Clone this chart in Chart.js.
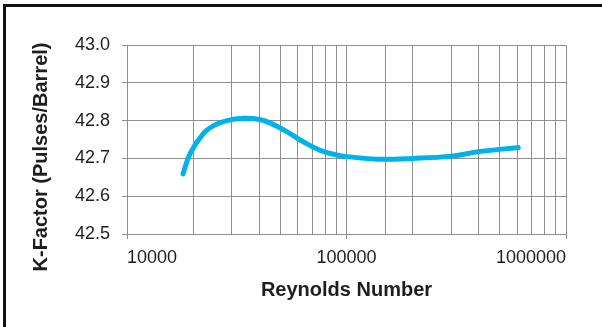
<!DOCTYPE html>
<html>
<head>
<meta charset="utf-8">
<script src="https://cdn.jsdelivr.net/npm/chart.js@4/dist/chart.umd.min.js"></script>
<style>
  html, body { margin: 0; padding: 0; background: #fff; }
  #wrap { position: relative; width: 602px; height: 327px; overflow: hidden; }
  #frame {
    position: absolute; left: 3px; top: 4px; width: 700px; height: 400px;
    border-top: 3px solid #111; border-left: 3px solid #111;
  }
  canvas { position: absolute; left: 0; top: 0; }
</style>
</head>
<body>
<div id="wrap">
  <div id="frame"></div>
  <canvas id="kfactorChart" width="602" height="327"></canvas>
</div>
<script>
// values
const reynolds = [18000, 19400, 22300, 24700, 28500, 33900, 40200, 44800, 53400, 63500, 75500, 90200, 103500, 137000, 200000, 301000, 404000, 606000];
const kFactor = [42.659, 42.713, 42.766, 42.786, 42.800, 42.806, 42.803, 42.794, 42.771, 42.744, 42.722, 42.709, 42.704, 42.698, 42.700, 42.706, 42.718, 42.729];
const xTickLabels = ["10000", "100000", "1000000"];
const yTickLabels = ["42.5", "42.6", "42.7", "42.8", "42.9", "43.0"];
const xTitle = "Reynolds Number";
const yTitle = "K-Factor (Pulses/Barrel)";

const gridColor = "#8f8f8f";
const textColor = "#1e1e1e";

// y title drawn by hand so it sits where the original has it
const yTitlePlugin = {
  id: "yTitle",
  afterDraw(chart) {
    const ctx = chart.ctx;
    ctx.save();
    ctx.translate(41, 157);
    ctx.rotate(-Math.PI / 2);
    ctx.font = 'bold 20px "Liberation Sans", Arial, sans-serif';
    ctx.fillStyle = textColor;
    ctx.textAlign = "center";
    ctx.textBaseline = "middle";
    ctx.fillText(yTitle, 0, 0);
    ctx.restore();
  },
};

const ctx = document.getElementById("kfactorChart").getContext("2d");
new Chart(ctx, {
  type: "line",
  data: {
    datasets: [
      {
        data: reynolds.map((r, i) => ({ x: r, y: kFactor[i] })),
        borderColor: "#00b2ea",
        borderWidth: 5,
        borderCapStyle: "round",
        borderJoinStyle: "round",
        pointRadius: 0,
        fill: false,
        tension: 0.4,
      },
    ],
  },
  options: {
    responsive: false,
    animation: false,
    layout: { padding: { top: 45, right: 36, bottom: 0, left: 0 } },
    plugins: { legend: { display: false }, tooltip: { enabled: false } },
    scales: {
      x: {
        type: "logarithmic",
        min: 10000,
        max: 1000000,
        afterFit: (scale) => { scale.height = 93; },
        border: { color: gridColor, width: 1 },
        grid: {
          color: gridColor,
          lineWidth: 1,
          tickLength: 5,
          tickColor: (c) => (c.tick && c.tick.major ? gridColor : "rgba(0,0,0,0)"),
        },
        ticks: {
          autoSkip: false,
          maxRotation: 0,
          align: "inner",
          padding: 8,
          color: textColor,
          font: { family: '"Liberation Sans", Arial, sans-serif', size: 18 },
          callback: (v) => (xTickLabels.includes(String(v)) ? String(v) : ""),
        },
        title: {
          display: true,
          text: xTitle,
          color: textColor,
          font: { family: '"Liberation Sans", Arial, sans-serif', size: 20, weight: "bold" },
          padding: { top: 0, bottom: 25 },
        },
      },
      y: {
        min: 42.5,
        max: 43.0,
        afterFit: (scale) => { scale.width = 127; },
        border: { color: gridColor, width: 1 },
        grid: { color: gridColor, lineWidth: 1, tickLength: 5, tickColor: gridColor },
        ticks: {
          stepSize: 0.1,
          padding: 12,
          color: textColor,
          font: { family: '"Liberation Sans", Arial, sans-serif', size: 18 },
          callback: (v, i) => yTickLabels[i],
        },
      },
    },
  },
  plugins: [yTitlePlugin],
});
</script>
</body>
</html>
